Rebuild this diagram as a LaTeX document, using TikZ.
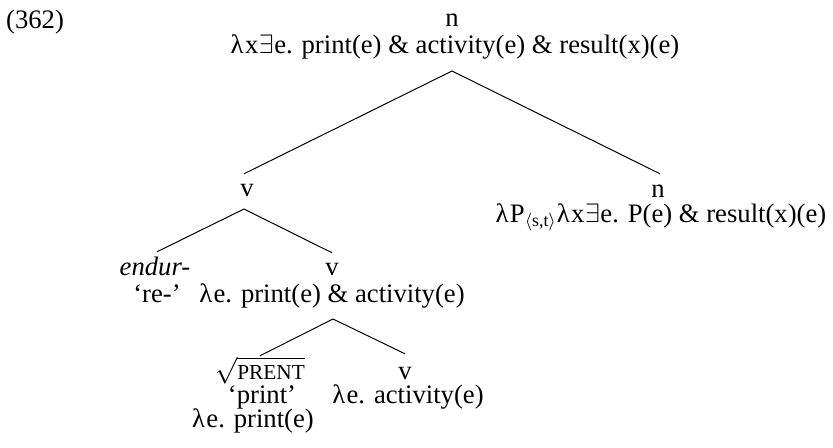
\documentclass[tikz,border=0pt]{standalone}
\usepackage{fontspec}
\setmainfont{Liberation Serif}
\usetikzlibrary{calc}
\tikzset{
  lab/.style={anchor=base, inner sep=0pt, text height=8pt, text depth=2.5pt, font=\fontsize{12}{14}\selectfont},
  edge/.style={draw=black, line width=0.45pt}
}
\newcommand{\lam}{λ\kern0.6pt}
\newcommand{\exi}{\kern0.3pt$\exists$\kern0.2pt}
\begin{document}
\begin{tikzpicture}[x=0.45pt, y=-0.45pt]
\useasboundingbox (0,0) rectangle (833,447);
% labels
\node[lab] (ex) at (35,28) {(362)};
\node[lab] (topn) at (452,26) {n};
\node[lab] (topf) at (455,53) {\lam x\exi e. print(e) \& activity(e) \& result(x)(e)};
\node[lab] (vA) at (247,196) {v};
\node[lab] (nB) at (658,197) {n};
\node[lab] (nBf) at (661,222) {\lam P\textsubscript{$\langle$s,t$\rangle$}\lam x\exi e. P(e) \& result(x)(e)};
\node[lab] (endur) at (155,275) {\textit{endur-}};
\node[lab] (re) at (157,302) {`re-'};
\node[lab] (vC) at (332,275) {v};
\node[lab] (vCf) at (332,302) {\lam e. print(e) \& activity(e)};
\node[lab] (root) at (260,379) {$\sqrt{\mbox{\fontsize{9.6}{10}\selectfont PRENT}}$};
\node[lab] (rootg) at (262,403) {`print'};
\node[lab] (rootf) at (253,427) {\lam e. print(e)};
\node[lab] (vD) at (405,379) {v};
\node[lab] (vDf) at (408,403) {\lam e. activity(e)};
% branching points
\coordinate (ap0) at ($(topf.south -| topn.south)+(0,12)$);
\coordinate (ap1) at ($(vA.south)+(-3,7)$);
\coordinate (ap2) at ($(vCf.south)+(1,11)$);
% connectors
\draw[edge] (ap0) -- ($(vA.north)+(-3,-4)$);
\draw[edge] (ap0) -- ($(nB.north)+(2,-5)$);
\draw[edge] (ap1) -- ($(endur.north)+(2,-5)$);
\draw[edge] (ap1) -- ($(vC.north)+(0,-4)$);
\draw[edge] (ap2) -- ($(root.north)+(0,-5)$);
\draw[edge] (ap2) -- ($(vD.north)+(0,-7)$);
\end{tikzpicture}
\end{document}
